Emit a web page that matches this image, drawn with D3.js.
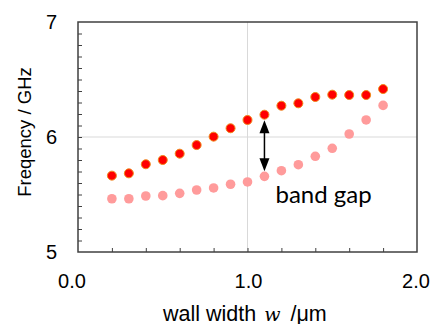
<!DOCTYPE html>
<html><head><meta charset="utf-8">
<script src="https://cdn.jsdelivr.net/npm/d3@7"></script>
<style>body{margin:0;background:#fff}svg{display:block}</style>
</head><body>
<svg id="c" width="435" height="324"></svg>
<script>
const widths = [0.2,0.3,0.4,0.5,0.6,0.7,0.8,0.9,1.0,1.1,1.2,1.3,1.4,1.5,1.6,1.7,1.8];
const upperBand = [5.664,5.684,5.763,5.80,5.855,5.93,6.003,6.076,6.148,6.194,6.272,6.293,6.348,6.368,6.365,6.365,6.417];
const lowerBand = [5.463,5.463,5.487,5.49,5.51,5.539,5.557,5.589,5.609,5.658,5.707,5.759,5.832,5.902,6.026,6.148,6.275];
const xTickLabels = [0.0, 1.0, 2.0];
const yTickLabels = [5, 6, 7];
const gapAt = 1.1;
const gapLabel = "band gap";

const svg = d3.select("#c");
const L=78, R=417, T=22, B=252;
const x = d3.scaleLinear().domain([0,2]).range([L,R]);
const y = d3.scaleLinear().domain([5,7]).range([B,T]);
const axisColor = "#404040";

// grid
svg.append("line").attr("x1",x(1)).attr("x2",x(1)).attr("y1",T).attr("y2",B).attr("stroke","#d9d9d9").attr("stroke-width",1);
svg.append("line").attr("x1",L).attr("x2",R).attr("y1",y(6)).attr("y2",y(6)).attr("stroke","#d9d9d9").attr("stroke-width",1);

// minor ticks via axes (inside)
const yAx = svg.append("g").attr("transform",`translate(${L},0)`)
  .call(d3.axisRight(y).tickValues(d3.range(51,70).map(d=>d/10)).tickSize(4).tickFormat(""));
const xAx = svg.append("g").attr("transform",`translate(0,${B})`)
  .call(d3.axisTop(x).tickValues(d3.range(1,10).map(d=>d/5)).tickSize(4).tickFormat(""));
[yAx,xAx].forEach(g=>{g.select(".domain").remove();g.selectAll("line").attr("stroke",axisColor).attr("stroke-width",1);});

// frame
svg.append("rect").attr("x",L).attr("y",T).attr("width",R-L).attr("height",B-T)
  .attr("fill","none").attr("stroke",axisColor).attr("stroke-width",1.5);

// tick labels
svg.selectAll(".yl").data(yTickLabels).enter().append("text")
  .attr("x",L-21).attr("y",d=>y(d)).attr("dy","0.36em").attr("text-anchor","end")
  .attr("font-family","Liberation Sans, Arial, sans-serif").attr("font-size",20).attr("fill","#000").text(d=>d);
svg.selectAll(".xl").data(xTickLabels).enter().append("text")
  .attr("x",(d,i)=>x(d)+(i===0?-6:(i===2?-1:1))).attr("y",288).attr("text-anchor","middle")
  .attr("font-family","Liberation Sans, Arial, sans-serif").attr("font-size",20).attr("fill","#000").text(d=>d.toFixed(1));

// axis titles
svg.append("text").attr("transform","translate(31,132) rotate(-90)").attr("text-anchor","middle")
  .attr("font-family","Liberation Sans, Arial, sans-serif").attr("font-size",18.5).attr("fill","#000").text("Freqency / GHz");
const xt = svg.append("text").attr("x",163).attr("y",320.5)
  .attr("font-family","Liberation Sans, Arial, sans-serif").attr("font-size",21.5).attr("fill","#000");
xt.append("tspan").text("wall width");
xt.append("tspan").attr("dx",8).attr("font-family","DejaVu Serif, Liberation Serif, serif").attr("font-style","italic").attr("font-size",19).text("w");
xt.append("tspan").attr("dx",10).text("/μm");

// series
svg.selectAll(".lo").data(widths).enter().append("circle")
  .attr("cx",d=>x(d)).attr("cy",(d,i)=>y(lowerBand[i])).attr("r",4.8).attr("fill","#ff9b9b");
svg.selectAll(".up").data(widths).enter().append("circle")
  .attr("cx",d=>x(d)).attr("cy",(d,i)=>y(upperBand[i])).attr("r",4.5).attr("fill","#ff0000")
  .attr("stroke","#f08a1c").attr("stroke-width",1);

// arrow
const gi = widths.indexOf(gapAt);
const ax = x(gapAt), y1 = y(upperBand[gi])+5.5, y2 = y(lowerBand[gi])-5;
svg.append("line").attr("x1",ax).attr("x2",ax).attr("y1",y1+10).attr("y2",y2-10).attr("stroke","#000").attr("stroke-width",1.5);
svg.append("path").attr("d",`M${ax},${y1} L${ax-5},${y1+13} L${ax+5},${y1+13} Z`).attr("fill","#000");
svg.append("path").attr("d",`M${ax},${y2} L${ax-5},${y2-13} L${ax+5},${y2-13} Z`).attr("fill","#000");

svg.append("text").attr("x",ax+11).attr("y",203).attr("font-family","Lato, Carlito, Calibri, sans-serif")
  .attr("font-size",24).attr("fill","#000").text(gapLabel);
</script>
</body></html>
